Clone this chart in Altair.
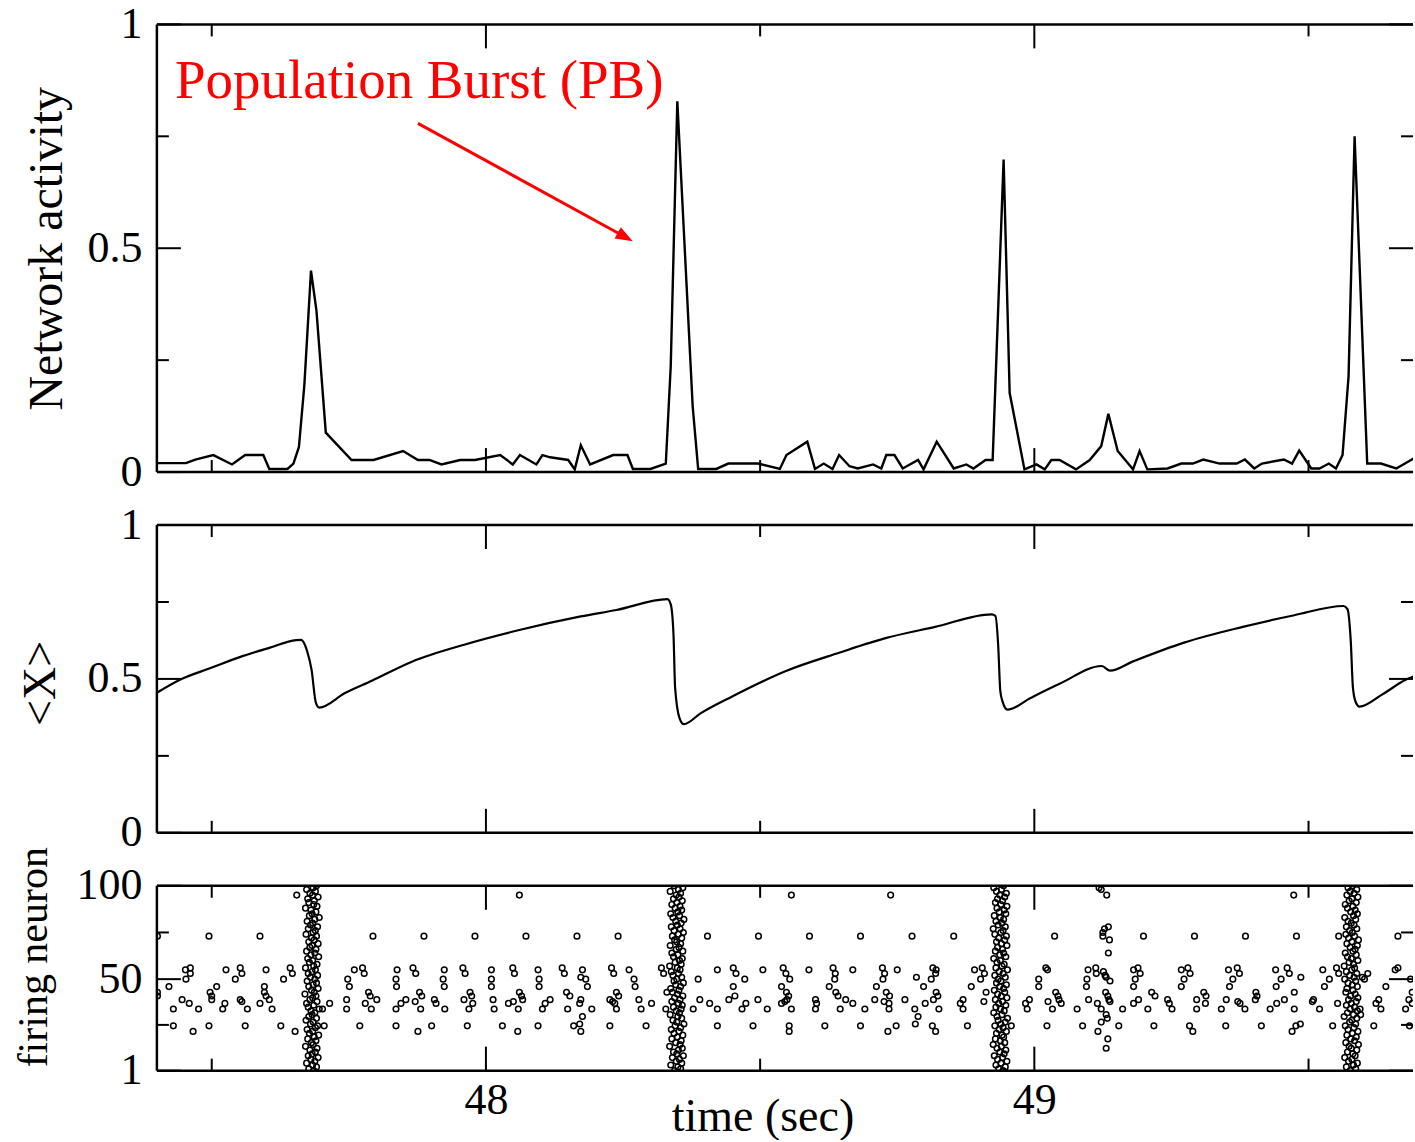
import altair as alt
import pandas as pd

FONT = "Liberation Serif"

# ---------------- data ----------------
# Network activity: (time [s], fraction of active neurons)
activity_points = [
    (47.400, 0.020), (47.453, 0.020), (47.470, 0.028), (47.503, 0.038), (47.537, 0.017),
    (47.561, 0.038), (47.594, 0.038), (47.605, 0.007), (47.638, 0.007), (47.649, 0.019),
    (47.659, 0.056), (47.669, 0.196), (47.681, 0.450), (47.691, 0.360), (47.708, 0.088),
    (47.755, 0.027), (47.795, 0.027), (47.849, 0.047), (47.876, 0.027), (47.897, 0.027),
    (47.919, 0.017), (47.953, 0.027), (47.980, 0.027), (48.026, 0.038), (48.049, 0.017),
    (48.062, 0.038), (48.092, 0.017), (48.103, 0.038), (48.117, 0.033), (48.150, 0.027),
    (48.162, 0.006), (48.173, 0.060), (48.190, 0.017), (48.232, 0.038), (48.258, 0.038),
    (48.268, 0.007), (48.300, 0.007), (48.328, 0.019), (48.337, 0.237), (48.349, 0.828),
    (48.377, 0.147), (48.387, 0.007), (48.420, 0.007), (48.442, 0.019), (48.496, 0.019),
    (48.536, 0.007), (48.548, 0.038), (48.586, 0.068), (48.600, 0.007), (48.616, 0.019),
    (48.632, 0.007), (48.644, 0.038), (48.663, 0.013), (48.678, 0.008), (48.706, 0.017),
    (48.721, 0.008), (48.730, 0.038), (48.745, 0.038), (48.760, 0.008), (48.788, 0.027),
    (48.798, 0.006), (48.822, 0.068), (48.853, 0.008), (48.876, 0.017), (48.889, 0.008),
    (48.911, 0.027), (48.924, 0.027), (48.944, 0.698), (48.955, 0.177), (48.982, 0.006),
    (49.004, 0.017), (49.019, 0.006), (49.031, 0.027), (49.046, 0.027), (49.076, 0.006),
    (49.101, 0.027), (49.122, 0.058), (49.135, 0.130), (49.152, 0.047), (49.180, 0.006),
    (49.192, 0.047), (49.206, 0.006), (49.243, 0.008), (49.268, 0.019), (49.289, 0.019),
    (49.308, 0.028), (49.338, 0.019), (49.369, 0.019), (49.384, 0.028), (49.401, 0.008),
    (49.415, 0.019), (49.455, 0.028), (49.470, 0.019), (49.483, 0.048), (49.505, 0.008),
    (49.520, 0.008), (49.537, 0.019), (49.550, 0.008), (49.562, 0.038), (49.573, 0.214),
    (49.584, 0.750), (49.607, 0.019), (49.632, 0.019), (49.660, 0.008), (49.693, 0.031),
]

# Mean synaptic resource <X>: (time [s], value)
mean_x_points = [
    (47.400, 0.455), (47.443, 0.498), (47.499, 0.536), (47.556, 0.574), (47.605, 0.601),
    (47.654, 0.626), (47.663, 0.627), (47.674, 0.590), (47.682, 0.530), (47.690, 0.422),
    (47.696, 0.407), (47.743, 0.454), (47.792, 0.494), (47.865, 0.556), (47.962, 0.612),
    (48.059, 0.658), (48.173, 0.703), (48.238, 0.724), (48.331, 0.759), (48.337, 0.742),
    (48.342, 0.645), (48.345, 0.471), (48.353, 0.373), (48.361, 0.353), (48.392, 0.389),
    (48.449, 0.443), (48.546, 0.525), (48.644, 0.585), (48.732, 0.634), (48.819, 0.669),
    (48.922, 0.710), (48.929, 0.705), (48.934, 0.612), (48.938, 0.460), (48.942, 0.427),
    (48.951, 0.400), (48.993, 0.438), (49.046, 0.484), (49.123, 0.542), (49.138, 0.527),
    (49.180, 0.557), (49.273, 0.618), (49.380, 0.669), (49.474, 0.707), (49.564, 0.737),
    (49.571, 0.727), (49.577, 0.623), (49.581, 0.471), (49.586, 0.425), (49.593, 0.410),
    (49.634, 0.449), (49.678, 0.498), (49.693, 0.509),
]

# Population bursts: burst time [s] and spike-time offsets [ms] of neurons 1..100
burst_times = [47.683, 48.348, 48.938, 49.578]
burst_offsets_ms = [
    [3, -6, 8, 1, -10, 5, -2, 11, -7, 0, 6, -4, 9, -12, 2, -1, 7, -8, 4, 12,
     -5, 1, -9, 6, 10, -3, 2, -11, 8, -6, 0, 5, -2, 13, -7, 3, -10, 9, -4, 1,
     7, -13, 4, -1, 11, -6, 2, 8, -9, 5, -3, 10, -7, 0, 6, -12, 3, 9, -5, 1,
     -8, 12, -2, 5, -10, 7, -4, 0, 11, -6, 4, -1, 8, -11, 2, 6, -7, 10, -3, 1,
     -9, 5, 13, -5, 0, 7, -2, -12, 9, 3, -6, 4, -8, 11, 1, -4, 6, -10, 2, 8],
    [-4, 7, 2, -11, 9, -1, 5, -8, 12, 0, -6, 3, 10, -13, 6, -2, 8, -9, 1, 11,
     -5, 4, -10, 7, -3, 13, 0, -7, 9, 2, -12, 5, -1, 8, -6, 10, 3, -9, 6, -4,
     11, 1, -8, 4, -11, 7, -2, 12, -5, 0, 9, -7, 3, -10, 6, 1, -13, 8, -3, 5,
     10, -6, 2, -9, 11, -1, 4, -12, 7, 0, -4, 9, -8, 3, 12, -5, 6, -10, 1, 8,
     -2, 13, -7, 5, -11, 2, 9, -3, 6, -9, 0, 10, -6, 4, -1, 7, -12, 3, 11, -5],
    [5, -3, 9, -8, 1, 12, -5, 4, -11, 7, -1, 10, -6, 2, -13, 8, 0, -9, 6, 3,
     -7, 11, -2, 5, -10, 1, 9, -4, 13, -6, 3, -12, 7, 0, -8, 10, -3, 4, -9, 12,
     2, -5, 8, -11, 6, -1, 11, -7, 1, -4, 9, -10, 5, -2, 13, -8, 3, 7, -6, 0,
     -12, 10, -1, 6, -9, 4, -5, 12, 2, -7, 8, -3, 11, -10, 1, 5, -13, 9, -4, 3,
     -8, 6, 0, -11, 10, -2, 7, -6, 12, 1, -9, 4, -5, 8, -1, 11, -7, 2, -12, 6],
    [-2, 8, -9, 4, 11, -5, 1, -12, 7, 3, -7, 10, 0, -4, 13, -10, 6, -1, 9, -8,
     2, 12, -6, 5, -11, 8, -3, 1, 10, -13, 4, -7, 11, -2, 6, -9, 0, 9, -5, 12,
     -1, 7, -10, 3, -8, 11, 2, -6, 8, -12, 5, -3, 10, -9, 1, 6, -13, 4, -4, 12,
     0, -7, 9, -11, 3, 7, -2, 11, -8, 1, 13, -5, 6, -10, 2, -3, 10, -9, 5, 0,
     -6, 8, -12, 4, 11, -1, 7, -7, 3, -11, 9, -4, 1, 12, -8, 5, -2, 10, -6, 2],
]

# Background spikes between bursts: (time [s], [firing neuron ids])
background_spikes = [
    (47.401, [73, 43, 41]), (47.422, [46]), (47.430, [34, 25]), (47.446, [39]),
    (47.452, [55]), (47.453, [50]), (47.459, [37]), (47.461, [56, 53]), (47.466, [22]),
    (47.476, [34]), (47.495, [73, 25]), (47.497, [43]), (47.500, [41, 39]), (47.509, [46]),
    (47.520, [34]), (47.524, [37]), (47.526, [55]), (47.543, [50]), (47.552, [56, 39]),
    (47.555, [53, 38]), (47.561, [25]), (47.565, [34]), (47.588, [73, 37]), (47.596, [46, 43]),
    (47.599, [41, 55]), (47.605, [39]), (47.610, [34]), (47.626, [25]), (47.631, [50]),
    (47.643, [56]), (47.647, [53]), (47.652, [22]), (47.655, [95]), (47.702, [34]),
    (47.705, [25]), (47.715, [37]), (47.746, [39, 34]), (47.748, [50]), (47.751, [46]),
    (47.760, [55]), (47.770, [25]), (47.775, [56]), (47.778, [53]), (47.780, [37]),
    (47.786, [43]), (47.789, [41]), (47.791, [34]), (47.794, [73]), (47.801, [39]),
    (47.836, [34, 50, 25]), (47.837, [46]), (47.838, [55]), (47.845, [37]), (47.854, [39]),
    (47.867, [56]), (47.871, [38]), (47.872, [53]), (47.876, [22]), (47.879, [43]),
    (47.881, [34]), (47.883, [41]), (47.887, [73]), (47.901, [25]), (47.906, [39]),
    (47.909, [37]), (47.922, [50]), (47.924, [46, 55]), (47.925, [34]), (47.958, [56]),
    (47.960, [39]), (47.962, [53]), (47.966, [25]), (47.969, [34]), (47.971, [43]),
    (47.974, [41]), (47.976, [37]), (47.980, [73]), (48.010, [55, 50, 46]), (48.013, [39]),
    (48.015, [34]), (48.030, [25]), (48.041, [37]), (48.049, [56]), (48.050, [38]),
    (48.052, [53]), (48.058, [22]), (48.059, [34]), (48.061, [43, 95]), (48.065, [41]),
    (48.067, [39]), (48.073, [73]), (48.095, [55, 25]), (48.097, [50, 46]), (48.103, [34]),
    (48.108, [37]), (48.117, [39]), (48.139, [56]), (48.143, [53]), (48.147, [43]),
    (48.149, [34]), (48.153, [41]), (48.160, [25]), (48.166, [73]), (48.171, [26, 37]),
    (48.173, [22, 39, 51]), (48.176, [30, 55]), (48.182, [50]), (48.185, [46]), (48.193, [34]),
    (48.226, [25, 39]), (48.229, [56]), (48.231, [38]), (48.233, [53]), (48.235, [37]),
    (48.238, [34, 43]), (48.241, [73]), (48.242, [41]), (48.261, [55]), (48.270, [50]),
    (48.272, [46]), (48.279, [39]), (48.283, [34]), (48.292, [25]), (48.302, [37]),
    (48.320, [56]), (48.324, [53]), (48.328, [34]), (48.330, [43]), (48.378, [34]),
    (48.387, [50]), (48.390, [39]), (48.404, [73]), (48.408, [37]), (48.422, [55, 34, 25]),
    (48.443, [39]), (48.451, [56, 46]), (48.454, [41]), (48.456, [53]), (48.467, [34]),
    (48.472, [50]), (48.474, [37]), (48.487, [25]), (48.496, [39]), (48.497, [73]),
    (48.505, [55]), (48.513, [34]), (48.539, [46, 37]), (48.542, [56]), (48.545, [38]),
    (48.547, [53]), (48.548, [43]), (48.549, [39]), (48.552, [41]), (48.553, [25, 22]),
    (48.554, [50]), (48.557, [95, 34]), (48.589, [55]), (48.590, [73]), (48.601, [34, 39]),
    (48.603, [37]), (48.618, [25]), (48.626, [46]), (48.633, [56]), (48.636, [50]),
    (48.637, [53]), (48.638, [43]), (48.642, [41]), (48.646, [34]), (48.656, [39]),
    (48.669, [55, 37]), (48.683, [73, 25]), (48.691, [34]), (48.709, [39]), (48.712, [46]),
    (48.723, [56]), (48.724, [50]), (48.726, [38]), (48.727, [53]), (48.730, [43]),
    (48.733, [22]), (48.735, [37, 34]), (48.736, [41]), (48.738, [95]), (48.748, [25]),
    (48.750, [55]), (48.764, [39]), (48.777, [73]), (48.782, [34]), (48.783, [26]),
    (48.785, [51]), (48.788, [30]), (48.798, [46]), (48.801, [37]), (48.812, [50]),
    (48.814, [25]), (48.815, [56]), (48.816, [39]), (48.820, [53, 22]), (48.821, [55, 43]),
    (48.824, [41]), (48.826, [34]), (48.853, [73]), (48.865, [37]), (48.870, [39, 34]),
    (48.878, [25]), (48.885, [46]), (48.891, [55]), (48.902, [50]), (48.905, [56]),
    (48.908, [38]), (48.909, [53]), (48.912, [43]), (48.958, [25]), (48.984, [37]),
    (48.987, [34]), (48.991, [39]), (49.008, [50, 46]), (49.021, [56]), (49.023, [25]),
    (49.024, [55]), (49.025, [38]), (49.033, [34]), (49.037, [73]), (49.039, [43]),
    (49.043, [41]), (49.045, [39]), (49.049, [37]), (49.078, [34]), (49.088, [25]),
    (49.095, [46]), (49.096, [50]), (49.098, [55]), (49.099, [39]), (49.112, [56]),
    (49.113, [53]), (49.115, [37]), (49.116, [22]), (49.118, [99]), (49.122, [98, 27, 34]),
    (49.125, [75, 73]), (49.126, [54]), (49.128, [77]), (49.129, [52]), (49.130, [43]),
    (49.131, [31, 13, 51]), (49.132, [95]), (49.133, [29]), (49.134, [18, 41]),
    (49.135, [78, 64]), (49.136, [39]), (49.137, [71]), (49.138, [49, 38]), (49.154, [25]),
    (49.161, [34]), (49.181, [46, 55, 37]), (49.184, [50]), (49.189, [56]), (49.190, [39]),
    (49.193, [53]), (49.199, [73]), (49.207, [34]), (49.214, [43]), (49.218, [25]),
    (49.220, [41]), (49.243, [39]), (49.246, [37]), (49.251, [34]), (49.268, [46, 55]),
    (49.273, [50]), (49.280, [56]), (49.283, [25]), (49.284, [53]), (49.289, [22]),
    (49.292, [73]), (49.296, [39, 34]), (49.309, [43]), (49.312, [37]), (49.313, [41]),
    (49.341, [34]), (49.349, [25]), (49.350, [39]), (49.354, [55]), (49.356, [46]),
    (49.362, [50]), (49.370, [56]), (49.371, [38]), (49.374, [53]), (49.375, [37]),
    (49.384, [34]), (49.385, [73]), (49.403, [39]), (49.404, [43]), (49.406, [41]),
    (49.414, [25]), (49.430, [34]), (49.440, [55]), (49.441, [46]), (49.442, [37]),
    (49.450, [50]), (49.456, [39]), (49.461, [56]), (49.465, [53]), (49.470, [22]),
    (49.473, [95]), (49.474, [43, 34]), (49.477, [25]), (49.478, [73]), (49.485, [26]),
    (49.486, [51]), (49.507, [38]), (49.509, [39]), (49.520, [34]), (49.526, [55]),
    (49.529, [46]), (49.538, [50]), (49.544, [25]), (49.551, [56]), (49.553, [37]),
    (49.555, [53, 73]), (49.594, [34]), (49.595, [31]), (49.598, [51]), (49.602, [50]),
    (49.608, [53]), (49.619, [25]), (49.623, [37]), (49.628, [39]), (49.632, [34]),
    (49.641, [46]), (49.658, [55]), (49.663, [56, 73]), (49.677, [34]), (49.683, [39]),
    (49.684, [25]), (49.686, [50]), (49.689, [43, 37]),
]

# Axis ticks
x_major = [48, 49]
x_minor = [47.5, 48.5, 49.5]
unit_major = [0, 0.5, 1]
unit_minor = [0.25, 0.75]
neuron_major = [1, 50, 100]
neuron_minor = [25.5, 75]

# Annotation
annotation_text = ["Population Burst (PB)"]
annotation_x = [47.433]
annotation_y = [0.835]
arrow_start = (47.876, 0.779)
arrow_end = (48.254, 0.525)

# ---------------- layout ----------------
W = 1257
H_TOP, H_MID, H_BOT = 448, 308, 185
X_DOMAIN = [47.4, 49.6905]
MAJ, MIN = 24, 12
LINE_W = 2.4

xscale = alt.Scale(domain=X_DOMAIN, nice=False, zero=False)
dummy = pd.DataFrame({"d": [0]})


def y_axis(values, title, title_x, title_y, title_size, fmt):
    return alt.Axis(values=values, format=fmt, ticks=False, domain=False, grid=False,
                    labelPadding=15, labelFontSize=44, labelFont=FONT, labelColor="black",
                    title=title, titleFont=FONT, titleFontSize=title_size,
                    titleFontWeight="normal", titleColor="black",
                    titleX=title_x, titleY=title_y, titleAngle=270,
                    titleAlign="center", titleBaseline="middle")


x_axis_bottom = alt.Axis(values=x_major, format="d", ticks=False, domain=False, grid=False,
                         labelPadding=8, labelFontSize=44, labelFont=FONT,
                         labelColor="black", title="time (sec)", titleFont=FONT,
                         titleFontSize=46, titleFontWeight="normal", titleColor="black",
                         titleX=606, titleY=46, titleAlign="center",
                         titleBaseline="middle")


def decorations(H, ymaj, ymin, yscale, yaxis, xaxis):
    layers = []
    # frame (left, top, bottom)
    fr = alt.Chart(dummy).mark_rule(color="black", strokeWidth=2.5)
    layers.append(fr.encode(x=alt.value(0), x2=alt.value(W), y=alt.value(0)))
    layers.append(fr.encode(x=alt.value(0), x2=alt.value(W), y=alt.value(H)))
    layers.append(fr.encode(x=alt.value(0), y=alt.value(0), y2=alt.value(H)))
    # inward x ticks on bottom and top edges
    for vals, L in [(x_major, MAJ), (x_minor, MIN)]:
        c = alt.Chart(pd.DataFrame({"t": vals})).mark_rule(color="black", strokeWidth=2)
        xe = alt.X("t:Q", scale=xscale, axis=xaxis)
        layers.append(c.encode(x=xe, y=alt.value(H), y2=alt.value(H - L)))
        layers.append(c.encode(x=xe, y=alt.value(0), y2=alt.value(L)))
    # inward y ticks on left and right edges
    for vals, L in [(ymaj, MAJ), (ymin, MIN)]:
        c = alt.Chart(pd.DataFrame({"v": vals})).mark_rule(color="black", strokeWidth=2)
        ye = alt.Y("v:Q", scale=yscale, axis=yaxis)
        layers.append(c.encode(y=ye, x=alt.value(0), x2=alt.value(L)))
        layers.append(c.encode(y=ye, x=alt.value(W - L), x2=alt.value(W)))
    return layers


# ---- top panel: network activity ----
ys_top = alt.Scale(domain=[0, 1], nice=False, zero=False)
ax_top = y_axis(unit_major, "Network activity", -109, H_TOP / 2, 48, "~g")
act_df = pd.DataFrame(activity_points, columns=["time", "activity"])
top_line = alt.Chart(act_df).mark_line(color="black", strokeWidth=LINE_W, clip=True).encode(
    x=alt.X("time:Q", scale=xscale, axis=None),
    y=alt.Y("activity:Q", scale=ys_top, axis=ax_top),
)
ann_df = pd.DataFrame({"x": annotation_x, "y": annotation_y, "label": annotation_text})
ann = alt.Chart(ann_df).mark_text(align="left", baseline="alphabetic", font=FONT,
                                  fontSize=55, color="#ff0000").encode(
    x=alt.X("x:Q", scale=xscale, axis=None),
    y=alt.Y("y:Q", scale=ys_top, axis=ax_top),
    text="label:N",
)
arrow_df = pd.DataFrame({"x": [arrow_start[0]], "y": [arrow_start[1]],
                         "x2": [arrow_end[0]], "y2": [arrow_end[1]]})
arrow = alt.Chart(arrow_df).mark_rule(color="#ff0000", strokeWidth=3).encode(
    x=alt.X("x:Q", scale=xscale, axis=None), y=alt.Y("y:Q", scale=ys_top, axis=ax_top),
    x2="x2:Q", y2="y2:Q",
)
head_df = pd.DataFrame({"x": [arrow_end[0]], "y": [arrow_end[1]]})
head = alt.Chart(head_df).mark_point(shape="M0,-1L0.75,1L-0.75,1Z", filled=True,
                                     color="#ff0000", size=300, angle=119, opacity=1,
                                     strokeWidth=0).encode(
    x=alt.X("x:Q", scale=xscale, axis=None), y=alt.Y("y:Q", scale=ys_top, axis=ax_top),
)
top = alt.layer(top_line, *decorations(H_TOP, unit_major, unit_minor, ys_top, ax_top, None),
                ann, arrow, head).properties(width=W, height=H_TOP)

# ---- middle panel: <X> ----
ys_mid = alt.Scale(domain=[0, 1], nice=False, zero=False)
ax_mid = y_axis(unit_major, "<X>", -116, 158, 46, "~g")
mx_df = pd.DataFrame(mean_x_points, columns=["time", "X"])
mid_line = alt.Chart(mx_df).mark_line(color="black", strokeWidth=2.2, clip=True,
                                      interpolate="monotone").encode(
    x=alt.X("time:Q", scale=xscale, axis=None),
    y=alt.Y("X:Q", scale=ys_mid, axis=ax_mid),
)
mid = alt.layer(mid_line, *decorations(H_MID, unit_major, unit_minor, ys_mid, ax_mid, None)
                ).properties(width=W, height=H_MID)

# ---- bottom panel: raster ----
rows = []
for t, neurons in background_spikes:
    for n in neurons:
        rows.append({"time": t, "neuron": n})
for tc, offs in zip(burst_times, burst_offsets_ms):
    for i, o in enumerate(offs):
        rows.append({"time": tc + o / 1000.0, "neuron": i + 1})
raster_df = pd.DataFrame(rows)
ys_bot = alt.Scale(domain=[1, 100], nice=False, zero=False)
ax_bot = y_axis(neuron_major, "firing neuron", -123, 71, 42, "d")
raster = alt.Chart(raster_df).mark_point(shape="circle", filled=False, color="black",
                                         size=32, strokeWidth=1.5, opacity=1,
                                         clip=True).encode(
    x=alt.X("time:Q", scale=xscale, axis=x_axis_bottom),
    y=alt.Y("neuron:Q", scale=ys_bot, axis=ax_bot),
)
bot = alt.layer(raster, *decorations(H_BOT, neuron_major, neuron_minor, ys_bot, ax_bot,
                                     x_axis_bottom)).properties(width=W, height=H_BOT)

chart = alt.vconcat(top, mid, bot, spacing=53, bounds="flush").properties(
    padding={"left": 12, "top": 2, "right": 0, "bottom": 0},
    background="white",
).configure_view(stroke=None)

chart.save("out.html", embed_options={"renderer": "svg", "actions": False})
